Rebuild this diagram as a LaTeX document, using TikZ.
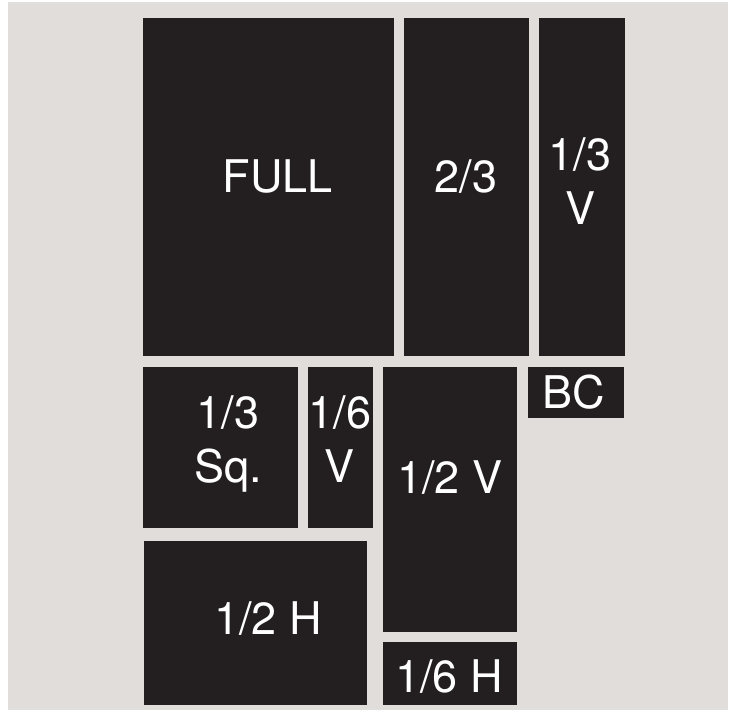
\documentclass[tikz,border=0pt]{standalone}
\usepackage{fontspec}
\setmainfont{TeX Gyre Heros}
\definecolor{boxdark}{HTML}{231F20}
\definecolor{bggray}{HTML}{E0DDDA}
\begin{document}
\begin{tikzpicture}[x=1pt,y=-1pt,
  adbox/.style={fill=boxdark, draw=none, inner sep=0pt, anchor=north west},
  adlabel/.style={text=white, inner sep=0pt, anchor=base, align=center,
    font=\fontsize{45}{54}\selectfont}]
\useasboundingbox (0,0) rectangle (730,710);
\fill[bggray] (8,2) rectangle (728,710);
% boxes
\node[adbox, minimum width=251pt, minimum height=338pt] (full) at (143,18) {};
\node[adbox, minimum width=125pt, minimum height=338pt] (twothird) at (404,18) {};
\node[adbox, minimum width=86pt, minimum height=338pt] (thirdv) at (539,18) {};
\node[adbox, minimum width=155pt, minimum height=161pt] (thirdsq) at (143,367) {};
\node[adbox, minimum width=65pt, minimum height=161pt] (sixthv) at (308,367) {};
\node[adbox, minimum width=134pt, minimum height=265pt] (halfv) at (383,367) {};
\node[adbox, minimum width=96pt, minimum height=51pt] (bc) at (528,367) {};
\node[adbox, minimum width=223pt, minimum height=164pt] (halfh) at (144,541) {};
\node[adbox, minimum width=134pt, minimum height=63pt] (sixthh) at (383,642) {};
% labels (base anchor = baseline of the last line)
\node[adlabel] (tfull) at (278,192) {FULL};
\node[adlabel] (ttwothird) at (466,192) {2/3};
\node[adlabel] (tthirdv) at (580,224) {1/3\\V};
\node[adlabel] (tthirdsq) at (228,482) {1/3\\Sq.};
\node[adlabel] (tsixthv) at (340,482) {1/6\\V};
\node[adlabel] (thalfv) at (450,493) {1/2 V};
\node[adlabel] (tbc) at (574,408) {BC};
\node[adlabel] (thalfh) at (268,634) {1/2 H};
\node[adlabel] (tsixthh) at (449,692) {1/6 H};
\end{tikzpicture}
\end{document}
